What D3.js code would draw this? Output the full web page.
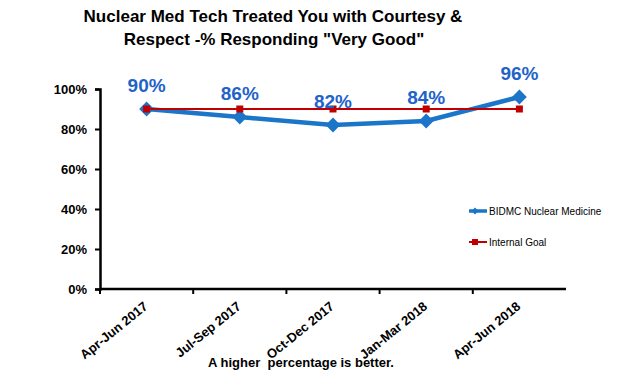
<!DOCTYPE html>
<html>
<head>
<meta charset="utf-8">
<script src="https://cdn.jsdelivr.net/npm/d3@7"></script>
<style>
  body { margin: 0; background: #fff; }
  text { font-family: "Liberation Sans", Arial, sans-serif; }
</style>
</head>
<body>
<div id="chart"></div>
<script>
const quarters = ["Apr-Jun 2017", "Jul-Sep 2017", "Oct-Dec 2017", "Jan-Mar 2018", "Apr-Jun 2018"];
const bidmcValues = [90, 86, 82, 84, 96];
const goalValues = [90, 90, 90, 90, 90];
const yTicks = [0, 20, 40, 60, 80, 100];

const WIDTH = 620, HEIGHT = 375;
const margin = { top: 89, right: 54, bottom: 86, left: 100 };
const width = WIDTH - margin.left - margin.right;
const height = HEIGHT - margin.top - margin.bottom;

const blue = "#1b75c9";
const red = "#c00000";

const svg = d3.select("#chart").append("svg")
  .attr("width", WIDTH)
  .attr("height", HEIGHT);

// title
svg.append("text")
  .attr("x", 273).attr("y", 22)
  .attr("text-anchor", "middle")
  .attr("font-size", 17).attr("font-weight", "bold")
  .text("Nuclear Med Tech Treated You with Courtesy &");
svg.append("text")
  .attr("x", 274).attr("y", 45)
  .attr("text-anchor", "middle")
  .attr("font-size", 17).attr("font-weight", "bold")
  .text("Respect -% Responding \"Very Good\"");

const g = svg.append("g")
  .attr("transform", "translate(" + margin.left + "," + margin.top + ")");

const x = d3.scaleBand().domain(quarters).range([0, width]);
const y = d3.scaleLinear().domain([0, 100]).range([height, 0]);
const cx = d => x(d) + x.bandwidth() / 2;

// y axis
const yAxis = g.append("g")
  .call(d3.axisLeft(y).tickValues(yTicks).tickFormat(d => d + "%").tickSizeOuter(0).tickSize(5));
yAxis.select(".domain").attr("stroke-width", 2.5);
yAxis.selectAll(".tick line").attr("stroke-width", 2);
yAxis.selectAll("text")
  .attr("font-size", 13).attr("font-weight", "bold").attr("fill", "#000")
  .attr("x", -13).attr("dy", "0.35em");

// x axis with ticks between categories
const xAxis = g.append("g")
  .attr("transform", "translate(0," + height + ")");
xAxis.append("line")
  .attr("x1", 0).attr("x2", width)
  .attr("stroke", "#000").attr("stroke-width", 2.5);
xAxis.selectAll("line.tk")
  .data(quarters)
  .join("line")
  .attr("class", "tk")
  .attr("x1", d => x(d)).attr("x2", d => x(d))
  .attr("y1", 0).attr("y2", 5)
  .attr("stroke", "#000").attr("stroke-width", 2);
xAxis.selectAll("text")
  .data(quarters)
  .join("text")
  .attr("transform", d => "translate(" + (cx(d) + 2) + ",19) rotate(-39)")
  .attr("text-anchor", "end")
  .attr("font-size", 13).attr("font-weight", "bold")
  .text(d => d);

const line = d3.line()
  .x((d, i) => cx(quarters[i]))
  .y(d => y(d));

// BIDMC line
g.append("path")
  .datum(bidmcValues)
  .attr("fill", "none")
  .attr("stroke", blue)
  .attr("stroke-width", 4.5)
  .attr("d", line);

g.selectAll("path.diamond")
  .data(bidmcValues)
  .join("path")
  .attr("class", "diamond")
  .attr("d", d3.symbol(d3.symbolDiamond2, 140))
  .attr("transform", (d, i) => "translate(" + cx(quarters[i]) + "," + y(d) + ")")
  .attr("fill", blue);

// goal line
g.append("path")
  .datum(goalValues)
  .attr("fill", "none")
  .attr("stroke", red)
  .attr("stroke-width", 2)
  .attr("d", line);

g.selectAll("rect.goal")
  .data(goalValues)
  .join("rect")
  .attr("class", "goal")
  .attr("x", (d, i) => cx(quarters[i]) - 3.5)
  .attr("y", d => y(d) - 3.5)
  .attr("width", 7).attr("height", 7)
  .attr("fill", red);

// data labels
g.selectAll("text.lbl")
  .data(bidmcValues)
  .join("text")
  .attr("class", "lbl")
  .attr("x", (d, i) => cx(quarters[i]))
  .attr("y", d => y(d) - 17)
  .attr("text-anchor", "middle")
  .attr("font-size", 19).attr("font-weight", "bold")
  .attr("fill", "#1f63c9")
  .text(d => d + "%");

// legend
const legend = svg.append("g");
const legendItems = [
  { name: "BIDMC Nuclear Medicine", color: blue, y: 211, w: 3.5 },
  { name: "Internal Goal", color: red, y: 242, w: 2 }
];
legendItems.forEach(item => {
  legend.append("line")
    .attr("x1", 469).attr("x2", 487)
    .attr("y1", item.y).attr("y2", item.y)
    .attr("stroke", item.color).attr("stroke-width", item.w);
  if (item.color === red) {
    legend.append("rect")
      .attr("x", 472).attr("y", item.y - 3).attr("width", 6).attr("height", 6)
      .attr("fill", red);
  } else {
    legend.append("path")
      .attr("d", d3.symbol(d3.symbolDiamond2, 30))
      .attr("transform", "translate(475," + item.y + ")")
      .attr("fill", blue);
  }
  legend.append("text")
    .attr("x", 489).attr("y", item.y).attr("dy", "0.35em")
    .attr("font-size", 10)
    .text(item.name);
});

// footnote
svg.append("text")
  .attr("x", 301).attr("y", 367)
  .attr("text-anchor", "middle")
  .attr("font-size", 13).attr("font-weight", "bold")
  .style("white-space", "pre")
  .text("A higher  percentage is better.");
</script>
</body>
</html>
